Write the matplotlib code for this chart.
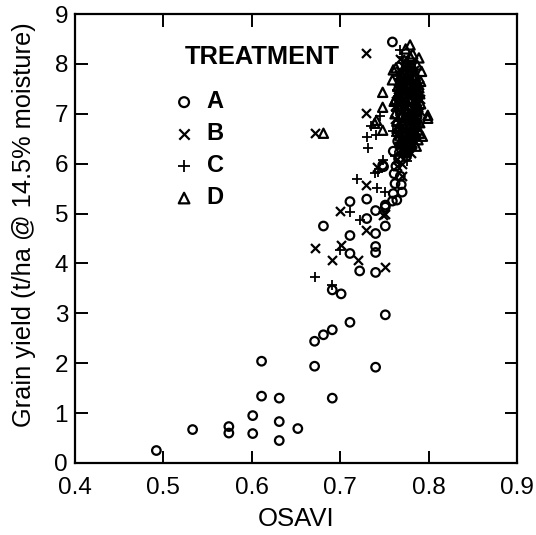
import matplotlib
matplotlib.use("Agg")
import matplotlib.pyplot as plt

plt.rcParams['font.family'] = ['Liberation Sans', 'DejaVu Sans']

# Treatment A (open circles)
a_x = [0.492, 0.533, 0.574, 0.574, 0.601, 0.601, 0.611, 0.611, 0.631, 0.631, 0.631, 0.652,
       0.671, 0.671, 0.681, 0.691, 0.691, 0.691, 0.701, 0.711, 0.681, 0.711, 0.711, 0.711,
       0.722, 0.730, 0.730, 0.740, 0.740, 0.740, 0.740, 0.740, 0.740, 0.751, 0.751, 0.751,
       0.759, 0.749, 0.748, 0.751,
       0.759, 0.764, 0.760, 0.770, 0.762, 0.769, 0.761, 0.768, 0.763, 0.766, 0.760, 0.772,
       0.765, 0.767, 0.771, 0.776, 0.781, 0.774, 0.779, 0.785,
       0.770, 0.778, 0.784, 0.773, 0.781, 0.767, 0.776, 0.783, 0.771, 0.779, 0.764, 0.775,
       0.787, 0.769, 0.780]
a_y = [0.25, 0.67, 0.73, 0.60, 0.95, 0.59, 2.04, 1.34, 1.30, 0.83, 0.45, 0.69,
       2.44, 1.94, 2.57, 2.67, 1.30, 3.47, 3.39, 2.82, 4.75, 4.56, 4.20, 5.24,
       3.85, 5.29, 4.90, 5.06, 4.60, 4.34, 4.22, 3.82, 1.92, 2.97, 4.75, 5.13,
       8.44, 5.94, 5.97, 5.17,
       5.25, 5.27, 5.40, 5.43, 5.60, 5.58, 5.80, 5.75, 5.95, 6.10, 6.25, 6.20,
       6.45, 6.70, 6.95, 7.25, 6.60, 7.55, 6.85, 7.05,
       7.82, 7.68, 7.35, 7.32, 7.12, 7.08, 6.90, 6.72, 6.55, 6.42, 6.62, 6.15,
       6.95, 7.48, 7.92]

# Treatment B (x)
b_x = [0.729, 0.729, 0.671, 0.671, 0.691, 0.701, 0.700, 0.729, 0.751, 0.751, 0.770, 0.729,
       0.742, 0.720, 0.748,
       0.765, 0.772, 0.780, 0.785, 0.770, 0.776, 0.762, 0.783, 0.790, 0.768, 0.778, 0.774,
       0.787, 0.766, 0.781, 0.771, 0.764, 0.779, 0.775, 0.769,
       0.767, 0.775, 0.783, 0.771, 0.779, 0.787, 0.763, 0.773, 0.781, 0.769, 0.777, 0.785,
       0.765, 0.773, 0.781, 0.789, 0.768, 0.776, 0.784, 0.772, 0.780, 0.764, 0.770, 0.778,
       0.786,
       0.766, 0.774, 0.782, 0.788, 0.770, 0.778, 0.784, 0.762, 0.772, 0.780, 0.786, 0.768,
       0.776, 0.782, 0.790, 0.767, 0.775, 0.783, 0.771, 0.779]
b_y = [8.22, 7.02, 6.61, 4.31, 4.07, 4.37, 5.06, 4.67, 3.92, 5.00, 5.75, 5.57,
       5.93, 4.07, 4.97,
       7.50, 7.20, 7.00, 6.80, 6.60, 6.40, 6.90, 7.60, 7.30, 7.85, 6.70, 6.20,
       7.10, 7.40, 6.50, 7.95, 6.10, 8.00, 6.95, 6.30,
       7.78, 7.82, 7.68, 7.55, 7.45, 7.35, 7.25, 7.12, 7.02, 6.88, 6.82, 6.68,
       6.58, 6.48, 6.42, 7.58, 8.10, 7.98, 7.88, 6.28, 6.22, 5.95, 6.00, 7.65,
       7.18,
       7.62, 7.58, 7.52, 7.32, 7.28, 7.38, 7.08, 7.15, 6.98, 6.78, 6.92, 6.72,
       6.62, 6.55, 7.05, 6.35, 6.32, 6.45, 7.72, 7.75]

# Treatment C (+)
c_x = [0.672, 0.691, 0.700, 0.711, 0.722, 0.719, 0.739, 0.742, 0.751, 0.730, 0.731, 0.741,
       0.743, 0.748, 0.768, 0.770, 0.735, 0.745,
       0.763, 0.770, 0.777, 0.784, 0.760, 0.773, 0.781, 0.766, 0.788, 0.775, 0.769, 0.779,
       0.762, 0.786, 0.771,
       0.765, 0.772, 0.779, 0.786, 0.768, 0.775, 0.782, 0.789, 0.763, 0.770, 0.777, 0.784,
       0.767, 0.774, 0.781, 0.766, 0.773, 0.780, 0.787, 0.771,
       0.764, 0.772, 0.780, 0.788, 0.768, 0.776, 0.784, 0.766, 0.774, 0.782, 0.770, 0.778,
       0.786, 0.765, 0.773, 0.781, 0.769, 0.777, 0.785, 0.775]
c_y = [3.73, 3.57, 4.27, 5.03, 4.87, 5.69, 5.81, 5.51, 5.43, 6.53, 6.31, 6.57,
       5.83, 6.07, 8.28, 8.14, 6.75, 6.95,
       6.55, 6.85, 7.15, 7.45, 6.65, 7.65, 6.95, 7.25, 6.75, 6.05, 6.35, 7.90,
       6.15, 7.05, 7.55,
       7.75, 7.68, 7.58, 7.38, 7.32, 7.42, 7.22, 7.12, 7.05, 7.02, 6.92, 6.62,
       6.85, 6.68, 6.52, 6.38, 6.22, 6.32, 6.95, 8.02,
       7.48, 7.52, 7.88, 7.28, 7.62, 7.18, 6.98, 6.78, 6.88, 6.72, 6.45, 6.48,
       6.58, 7.35, 7.08, 7.78, 7.22, 6.58, 7.58, 6.25]

# Treatment D (open triangles)
d_x = [0.681, 0.779, 0.789, 0.760, 0.759, 0.748, 0.788, 0.788, 0.748, 0.741, 0.799, 0.788,
       0.799, 0.790, 0.748, 0.739,
       0.775, 0.782, 0.770, 0.785, 0.765, 0.778, 0.792, 0.772, 0.768, 0.780, 0.786, 0.762,
       0.776, 0.783, 0.790, 0.771, 0.766, 0.779, 0.787, 0.774, 0.769, 0.781, 0.793, 0.764,
       0.777, 0.784, 0.773, 0.791, 0.767, 0.780, 0.786, 0.775, 0.761, 0.782,
       0.763, 0.771, 0.779, 0.787, 0.767, 0.775, 0.783, 0.791, 0.765, 0.773, 0.781, 0.789,
       0.769, 0.777, 0.785, 0.762, 0.770, 0.778, 0.786, 0.766, 0.774, 0.782, 0.790, 0.768,
       0.776, 0.784, 0.772, 0.780, 0.788, 0.774]
d_y = [6.61, 8.38, 8.12, 7.88, 7.68, 7.43, 7.61, 7.41, 7.13, 6.87, 6.91, 7.13,
       6.97, 6.61, 6.67, 6.81,
       8.05, 7.95, 7.80, 7.75, 7.55, 7.60, 7.85, 7.35, 7.20, 7.30, 7.25, 7.00,
       7.05, 6.95, 7.40, 6.80, 6.70, 6.60, 6.75, 6.45, 6.50, 6.40, 6.55, 6.85,
       7.70, 7.10, 7.50, 7.20, 7.45, 6.90, 6.35, 6.25, 7.25, 8.20,
       7.92, 7.88, 8.15, 7.98, 7.62, 7.70, 7.72, 7.65, 7.38, 7.42, 7.48, 7.52,
       7.15, 7.18, 7.22, 7.28, 6.98, 6.92, 6.88, 6.72, 6.62, 6.78, 6.82, 6.42,
       6.52, 6.58, 6.28, 6.38, 6.48, 8.30]

x_ticks = [0.4, 0.5, 0.6, 0.7, 0.8, 0.9]
y_ticks = [0, 1, 2, 3, 4, 5, 6, 7, 8, 9]

fig = plt.figure(figsize=(5.36, 5.35), dpi=100)
ax = fig.add_axes([0.140, 0.1346, 0.8246, 0.8392])

ax.scatter(a_x, a_y, s=38, marker='o', facecolors='none', edgecolors='black', linewidths=1.6, label='A')
ax.scatter(b_x, b_y, s=42, marker='x', color='black', linewidths=1.6, label='B')
ax.scatter(c_x, c_y, s=50, marker='+', color='black', linewidths=1.3, label='C')
ax.scatter(d_x, d_y, s=44, marker='^', facecolors='none', edgecolors='black', linewidths=1.6, label='D')

ax.set_xlim(0.4, 0.9)
ax.set_ylim(0, 9)
ax.set_xticks(x_ticks)
ax.set_yticks(y_ticks)
ax.set_xticklabels(['0.4', '0.5', '0.6', '0.7', '0.8', '0.9'])
ax.tick_params(direction='in', length=9, width=1.4, top=True, right=True, labelsize=17.5)
ax.tick_params(axis='x', pad=10)
ax.tick_params(axis='y', pad=5)
for sp in ax.spines.values():
    sp.set_linewidth(1.6)

ax.set_xlabel('OSAVI', fontsize=18.5, labelpad=6)
ax.set_ylabel('Grain yield (t/ha @ 14.5% moisture)', fontsize=18.3)
ax.yaxis.set_label_coords(-0.088, 0.53)

ax.text(0.248, 0.904, 'TREATMENT', transform=ax.transAxes, fontsize=18.3,
        fontweight='bold', va='center', ha='left')
ax.legend(loc='upper left', bbox_to_anchor=(0.22, 0.83), frameon=False,
          prop={'size': 17, 'weight': 'bold'}, handlelength=1.0, handletextpad=0.45,
          labelspacing=0.38, borderpad=0, borderaxespad=0, markerscale=1.15)

fig.savefig('out.png', dpi=100)
